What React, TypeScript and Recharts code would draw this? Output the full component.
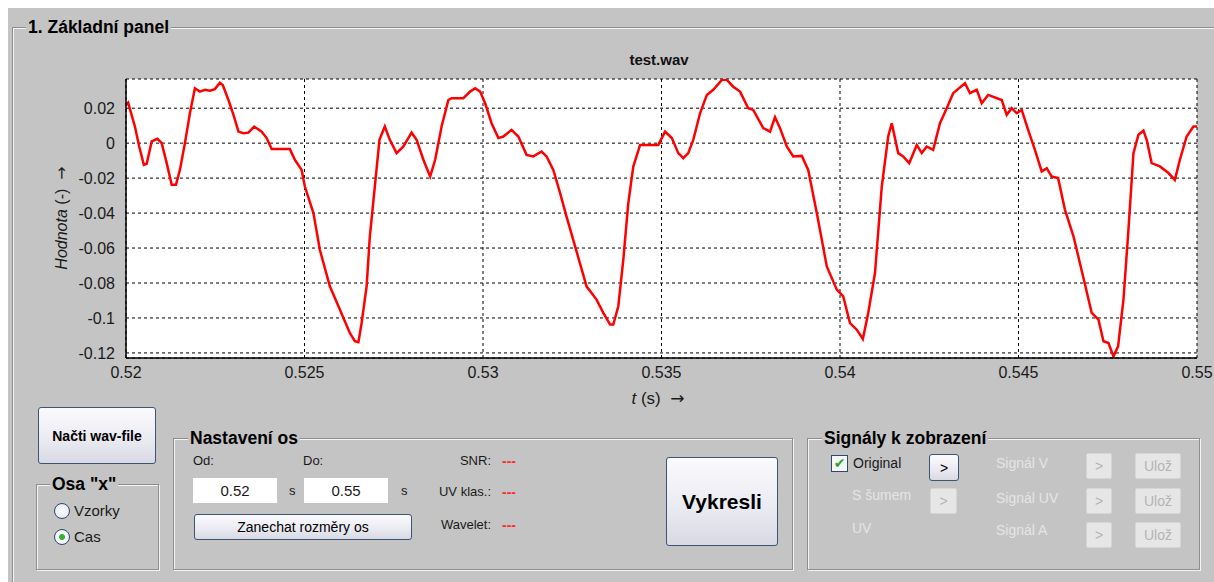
import { CartesianGrid, Line, LineChart, XAxis, YAxis } from "recharts";

// signal traced from test.wav, 0.52 s .. 0.55 s
const TIME_S = [
  0.52, 0.52006, 0.52025, 0.52037, 0.5205, 0.52058, 0.52072, 0.52088, 0.521, 0.52114,
  0.52128, 0.5214, 0.52151, 0.52165, 0.52179, 0.52193, 0.52207, 0.52221, 0.52235, 0.52249,
  0.52263, 0.52271, 0.52287, 0.52301, 0.52315, 0.52329, 0.52343, 0.52359, 0.5238, 0.52394,
  0.52408, 0.52431, 0.52459, 0.52473, 0.52492, 0.52501, 0.52525, 0.52543, 0.52571, 0.52599,
  0.52627, 0.52641, 0.52651, 0.5266, 0.52674, 0.52683, 0.52697, 0.5271, 0.52725, 0.52739,
  0.52758, 0.52777, 0.528, 0.52814, 0.52833, 0.52852, 0.52866, 0.52884, 0.52903, 0.52912,
  0.52945, 0.52964, 0.52978, 0.52992, 0.53006, 0.53024, 0.53043, 0.53057, 0.5308, 0.53099,
  0.53122, 0.53141, 0.53164, 0.53178, 0.53197, 0.53216, 0.53234, 0.53258, 0.5329, 0.53318,
  0.53337, 0.53356, 0.53365, 0.53379, 0.53393, 0.53407, 0.53421, 0.5344, 0.53491, 0.5351,
  0.53529, 0.53547, 0.53561, 0.53575, 0.53589, 0.53608, 0.53627, 0.53645, 0.53669, 0.53683,
  0.53701, 0.5372, 0.53743, 0.53757, 0.53785, 0.53804, 0.53818, 0.53832, 0.53851, 0.53869,
  0.53893, 0.53911, 0.53935, 0.53963, 0.53991, 0.54009, 0.54028, 0.54047, 0.54064, 0.54079,
  0.54098, 0.54117, 0.54135, 0.54145, 0.54163, 0.54177, 0.54194, 0.54215, 0.54229, 0.54243,
  0.54261, 0.5428, 0.54299, 0.54317, 0.5435, 0.54364, 0.54383, 0.54397, 0.54415, 0.54453,
  0.54467, 0.54481, 0.54495, 0.54509, 0.54527, 0.54546, 0.54565, 0.54579, 0.54593, 0.54611,
  0.5463, 0.54654, 0.54682, 0.54705, 0.54724, 0.54738, 0.54752, 0.54766, 0.54779, 0.54794,
  0.54808, 0.54822, 0.54836, 0.5485, 0.54859, 0.54873, 0.54896, 0.5492, 0.54938, 0.54952,
  0.54971, 0.5499, 0.55,
];

const VALUE = [
  0.0219, 0.0232, 0.0095, -0.0019, -0.0124, -0.0118, 0.001, 0.0025, 0.0, -0.0114,
  -0.0238, -0.0238, -0.0153, 0.0, 0.0171, 0.0314, 0.0295, 0.0305, 0.03, 0.0309,
  0.0346, 0.0333, 0.0247, 0.0162, 0.0066, 0.0057, 0.006, 0.0095, 0.0066, 0.0029,
  -0.0034, -0.0034, -0.0034, -0.0095, -0.0153, -0.0248, -0.04, -0.061, -0.0819, -0.0952,
  -0.1086, -0.1133, -0.1139, -0.1029, -0.0819, -0.0534, -0.0248, 0.0019, 0.0095, 0.0019,
  -0.0057, -0.0019, 0.006, 0.0019, -0.0095, -0.0191, -0.0095, 0.0095, 0.0247, 0.0257,
  0.0257, 0.0295, 0.0314, 0.0295, 0.0228, 0.0114, 0.0029, 0.0038, 0.0076, 0.0038,
  -0.0067, -0.0076, -0.0048, -0.0076, -0.0153, -0.0286, -0.042, -0.059, -0.0819, -0.0895,
  -0.0971, -0.1038, -0.1038, -0.0933, -0.0667, -0.0343, -0.0134, -0.001, -0.001, 0.0066,
  0.0029, -0.0057, -0.0086, -0.0057, 0.0019, 0.0171, 0.0276, 0.0305, 0.0362, 0.0362,
  0.0323, 0.0295, 0.02, 0.019, 0.0086, 0.0066, 0.0149, 0.0086, -0.0019, -0.0076,
  -0.0073, -0.0153, -0.04, -0.0705, -0.0838, -0.0876, -0.1029, -0.1067, -0.112, -0.0971,
  -0.0743, -0.0248, 0.0038, 0.0114, -0.0057, -0.0076, -0.0114, -0.001, -0.0057, -0.0019,
  -0.0038, 0.0114, 0.02, 0.0286, 0.0343, 0.0286, 0.0305, 0.0228, 0.0276, 0.0247,
  0.0162, 0.02, 0.0171, 0.019, 0.0076, -0.0038, -0.0162, -0.0143, -0.0191, -0.02,
  -0.038, -0.0533, -0.0771, -0.0971, -0.101, -0.1133, -0.1143, -0.122, -0.1162, -0.0895,
  -0.0495, -0.0057, 0.0048, 0.0072, 0.0019, -0.0114, -0.0133, -0.0171, -0.021, -0.0095,
  0.0038, 0.0095, 0.0095,
];

const X_TICKS = [0.52, 0.525, 0.53, 0.535, 0.54, 0.545, 0.55];
const X_TICK_LABELS = ["0.52", "0.525", "0.53", "0.535", "0.54", "0.545", "0.55"];
const Y_TICKS = [-0.12, -0.1, -0.08, -0.06, -0.04, -0.02, 0, 0.02];
const Y_TICK_LABELS = ["-0.12", "-0.1", "-0.08", "-0.06", "-0.04", "-0.02", "0", "0.02"];
const X_DOMAIN = [0.52, 0.55];
const Y_DOMAIN = [-0.1229, 0.0367];

const data = TIME_S.map((t, i) => ({ t, v: VALUE[i] }));

const BG = "#c4c4c4";
const FONT = "'Liberation Sans', Arial, sans-serif";
const ARROW_FONT = "'DejaVu Sans', sans-serif";
const DISABLED = "#e4e4e4";

const tickLabel = (ticks: number[], labels: string[]) => (v: number) => {
  const i = ticks.findIndex((x) => Math.abs(x - v) < 1e-9);
  return i >= 0 ? labels[i] : String(v);
};

const groupBox = (left: number, top: number, width: number, height: number): React.CSSProperties => ({
  position: "absolute",
  left,
  top,
  width,
  height,
  border: "1px solid #8e8e8e",
  boxShadow: "inset 1px 1px 0 #f4f4f4, 1px 1px 0 #f4f4f4",
});

const groupTitle = (left: number, top: number, size = 17.5): React.CSSProperties => ({
  position: "absolute",
  left,
  top,
  background: BG,
  padding: "0 2px",
  fontWeight: "bold",
  fontSize: size,
  lineHeight: "20px",
  color: "#000",
});

const button = (left: number, top: number, width: number, height: number): React.CSSProperties => ({
  position: "absolute",
  left,
  top,
  width,
  height,
  boxSizing: "border-box",
  border: "1px solid #3d5473",
  borderRadius: 3,
  background: "linear-gradient(#fbfbfd, #e9e9f1 60%, #d9d9e4)",
  display: "flex",
  alignItems: "center",
  justifyContent: "center",
  color: "#000",
});

const disabledBtn = (left: number, top: number, width: number, height: number): React.CSSProperties => ({
  position: "absolute",
  left,
  top,
  width,
  height,
  boxSizing: "border-box",
  border: "1px solid #d6d6d6",
  borderRadius: 2,
  background: "#e6e6e6",
  display: "flex",
  alignItems: "center",
  justifyContent: "center",
  color: "#b4b4b4",
  fontSize: 14,
});

const text = (left: number, centerY: number, extra: React.CSSProperties = {}): React.CSSProperties => ({
  position: "absolute",
  left,
  top: centerY - 9,
  lineHeight: "18px",
  fontSize: 14,
  whiteSpace: "nowrap",
  ...extra,
});

const redDash: React.CSSProperties = { color: "#ff2a2a", fontSize: 14, fontWeight: "bold" };

export default function App() {
  // everything is placed in page coords minus the 8px body margin
  return (
    <div
      style={{
        position: "fixed",
        left: 8,
        top: 8,
        width: 1206,
        height: 574,
        background: BG,
        overflow: "hidden",
        fontFamily: FONT,
        color: "#1a1a1a",
      }}
    >
      <style>{"html { overflow: hidden; } .recharts-surface { overflow: visible; }"}</style>

      {/* outer panel frame */}
      <div style={groupBox(4, 19, 1210, 600)} />
      <div style={groupTitle(18, 9, 17.5)}>1. Základní panel</div>

      <div style={{ position: "absolute", left: 0, top: 0 }}>
        <LineChart
          width={1206}
          height={400}
          data={data}
          margin={{ top: 71, right: 17, left: 58, bottom: 20 }}
        >
          <CartesianGrid
            fill="#ffffff"
            stroke="#000000"
            strokeDasharray="3 3"
            strokeWidth={1}
          />
          <XAxis
            dataKey="t"
            type="number"
            domain={X_DOMAIN}
            ticks={X_TICKS}
            tickFormatter={tickLabel(X_TICKS, X_TICK_LABELS)}
            allowDataOverflow
            height={30}
            tickLine={false}
            axisLine={{ stroke: "#000", strokeWidth: 1.5 }}
            tick={{ fill: "#1a1a1a", fontSize: 16, fontFamily: FONT }}
            tickMargin={3}
            interval={0}
          />
          <YAxis
            type="number"
            domain={Y_DOMAIN}
            ticks={Y_TICKS}
            tickFormatter={tickLabel(Y_TICKS, Y_TICK_LABELS)}
            allowDataOverflow
            width={60}
            tickLine={false}
            axisLine={{ stroke: "#000", strokeWidth: 1.5 }}
            tick={{ fill: "#1a1a1a", fontSize: 16, fontFamily: FONT }}
            tickMargin={5}
            interval={0}
          />
          <Line
            type="linear"
            dataKey="v"
            stroke="#ff0000"
            strokeWidth={2.5}
            dot={false}
            isAnimationActive={false}
          />
        </LineChart>
      </div>

      {/* chart title and axis labels */}
      <div
        style={{
          position: "absolute",
          left: 551,
          width: 200,
          top: 43,
          textAlign: "center",
          fontWeight: "bold",
          fontSize: 15,
          lineHeight: "18px",
          color: "#111",
        }}
      >
        test.wav
      </div>
      <div
        style={{
          position: "absolute",
          left: 550,
          width: 200,
          top: 380,
          textAlign: "center",
          fontSize: 17,
          lineHeight: "20px",
        }}
      >
        <i>t</i> (s)&nbsp;&nbsp;<span style={{ fontFamily: ARROW_FONT, fontSize: 17 }}>→</span>
      </div>
      <div
        style={{
          position: "absolute",
          left: 54 - 100,
          width: 200,
          top: 210 - 10,
          textAlign: "center",
          fontSize: 16,
          lineHeight: "20px",
          transform: "rotate(-90deg)",
        }}
      >
        <i>Hodnota</i> (-)&nbsp;&nbsp;<span style={{ fontFamily: ARROW_FONT, fontSize: 16 }}>→</span>
      </div>

      {/* Načti wav-file */}
      <div style={{ ...button(30, 399, 118, 57), fontWeight: "bold", fontSize: 14 }}>Načti wav-file</div>

      {/* Osa "x" */}
      <div style={groupBox(28, 476, 121, 84)} />
      <div style={groupTitle(42, 466, 17.5)}>Osa "x"</div>
      <div
        style={{
          position: "absolute",
          left: 46,
          top: 495,
          width: 14,
          height: 14,
          borderRadius: "50%",
          border: "1px solid #2d4a6c",
          background: "radial-gradient(#ffffff, #dfe3ea)",
        }}
      />
      <div style={text(66, 503, { fontSize: 15 })}>Vzorky</div>
      <div
        style={{
          position: "absolute",
          left: 46,
          top: 521,
          width: 14,
          height: 14,
          borderRadius: "50%",
          border: "1px solid #2d4a6c",
          background: "radial-gradient(#2fb52f 0, #2fb52f 2.5px, #ffffff 3.5px, #dfe3ea)",
        }}
      />
      <div style={text(66, 529, { fontSize: 15 })}>Cas</div>

      {/* Nastavení os */}
      <div style={groupBox(165, 430, 618, 130)} />
      <div style={groupTitle(180, 420, 17.5)}>Nastavení os</div>
      <div style={text(185, 453, { fontSize: 13 })}>Od:</div>
      <div style={text(295, 453, { fontSize: 13 })}>Do:</div>
      <div
        style={{
          position: "absolute",
          left: 185,
          top: 470,
          width: 84,
          height: 25,
          background: "#fff",
          display: "flex",
          alignItems: "center",
          justifyContent: "center",
          fontSize: 15,
        }}
      >
        0.52
      </div>
      <div style={text(281, 483, { fontSize: 13 })}>s</div>
      <div
        style={{
          position: "absolute",
          left: 296,
          top: 470,
          width: 84,
          height: 25,
          background: "#fff",
          display: "flex",
          alignItems: "center",
          justifyContent: "center",
          fontSize: 15,
        }}
      >
        0.55
      </div>
      <div style={text(393, 483, { fontSize: 13 })}>s</div>
      <div style={{ ...button(186, 506, 218, 26), fontSize: 14 }}>Zanechat rozměry os</div>

      <div style={text(383, 453, { width: 100, textAlign: "right", fontSize: 13 })}>SNR:</div>
      <div style={text(383, 484, { width: 100, textAlign: "right", fontSize: 13 })}>UV klas.:</div>
      <div style={text(383, 517, { width: 100, textAlign: "right", fontSize: 13 })}>Wavelet:</div>
      <div style={text(494, 453, redDash)}>---</div>
      <div style={text(494, 484, redDash)}>---</div>
      <div style={text(494, 517, redDash)}>---</div>

      <div style={{ ...button(658, 449, 112, 89), fontWeight: "bold", fontSize: 21 }}>Vykresli</div>

      {/* Signály k zobrazení */}
      <div style={groupBox(799, 430, 391, 130)} />
      <div style={groupTitle(814, 420, 17.5)}>Signály k zobrazení</div>
      <div
        style={{
          position: "absolute",
          left: 823,
          top: 447,
          width: 15,
          height: 15,
          border: "1px solid #2d4a6c",
          background: "#f4f6f8",
          color: "#2aa52a",
          fontSize: 14,
          lineHeight: "15px",
          textAlign: "center",
          fontWeight: "bold",
          fontFamily: ARROW_FONT,
        }}
      >
        ✔
      </div>
      <div style={text(845, 455)}>Original</div>
      <div style={{ ...button(921, 446, 30, 27), fontSize: 14 }}>&gt;</div>
      <div style={text(844, 487, { color: DISABLED })}>S šumem</div>
      <div style={disabledBtn(922, 480, 27, 26)}>&gt;</div>
      <div style={text(844, 520, { color: DISABLED })}>UV</div>

      <div style={text(988, 455, { color: DISABLED })}>Signál V</div>
      <div style={text(988, 490, { color: DISABLED })}>Signál UV</div>
      <div style={text(988, 522, { color: DISABLED })}>Signál A</div>
      <div style={disabledBtn(1078, 445, 26, 26)}>&gt;</div>
      <div style={disabledBtn(1078, 480, 26, 26)}>&gt;</div>
      <div style={disabledBtn(1078, 514, 26, 26)}>&gt;</div>
      <div style={disabledBtn(1127, 445, 46, 26)}>Ulož</div>
      <div style={disabledBtn(1127, 480, 46, 26)}>Ulož</div>
      <div style={disabledBtn(1127, 514, 46, 26)}>Ulož</div>
    </div>
  );
}
